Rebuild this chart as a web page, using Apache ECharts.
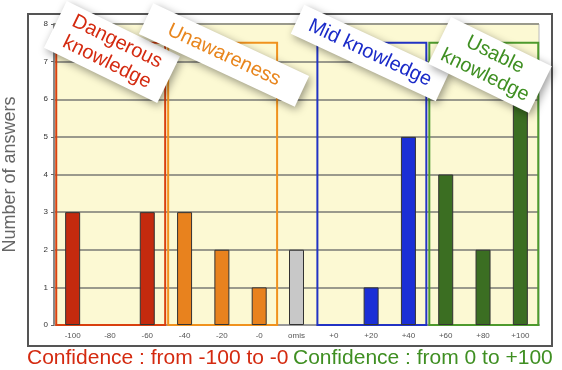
<!DOCTYPE html>
<html>
<head>
<meta charset="utf-8">
<script src="https://cdn.jsdelivr.net/npm/echarts@6/dist/echarts.min.js"></script>
<style>
  html, body { margin: 0; padding: 0; background: #fff; }
  #chart { width: 562px; height: 370px; }
</style>
</head>
<body>
<div id="chart"></div>
<script>
// data
const categories = ['-100', '-80', '-60', '-40', '-20', '-0', 'omis', '+0', '+20', '+40', '+60', '+80', '+100']
const answers = [3, 0, 3, 3, 2, 1, 2, 0, 1, 5, 4, 2, 6]
const yTicks = [0, 1, 2, 3, 4, 5, 6, 7, 8]

// the four groups of confidence
const groupLabels = ['Dangerous\nknowledge', 'Unawareness', 'Mid knowledge', 'Usable\nknowledge']
const groupFrom = ['-100', '-40', '+0', '+60']
const groupTo = ['-60', '-0', '+40', '+100']
const groupTop = 7.5

const barColors = ['#c42a0e', '#e8821e', '#1b2fd6', '#3b6e22']
const boxColors = ['#d9400f', '#f0921e', '#2233c4', '#4e9a2e']
const textColors = ['#d42a10', '#e8861e', '#1a2ac8', '#3f8f22']

function groupOf(i) {
  for (let g = 0; g < groupFrom.length; g++) {
    if (i >= categories.indexOf(groupFrom[g]) && i <= categories.indexOf(groupTo[g])) return g
  }
  return -1
}

const chart = echarts.init(document.getElementById('chart'))

// label boxes: centre, size, tilt
const boxes = [
  { cx: 112, cy: 52, w: 126, h: 52, a: 26 },
  { cx: 224, cy: 55, w: 172, h: 34, a: 25 },
  { cx: 370, cy: 53, w: 160, h: 32, a: 25 },
  { cx: 490, cy: 65, w: 112, h: 52, a: 26 }
]

const graphics = [
  {
    type: 'rect', z: -1, silent: true,
    shape: { x: 28, y: 14, width: 524, height: 332 },
    style: { fill: 'none', stroke: '#555', lineWidth: 2 }
  },
  {
    type: 'text', left: 27, top: 348, z: 10,
    style: { text: 'Confidence : from -100 to -0', fill: '#d42a10', font: '21px "Liberation Sans", Arial, sans-serif' }
  },
  {
    type: 'text', left: 293, top: 348, z: 10,
    style: { text: 'Confidence : from 0 to +100', fill: '#3f8f22', font: '21px "Liberation Sans", Arial, sans-serif' }
  }
]

boxes.forEach((b, g) => {
  graphics.push({
    type: 'group', x: b.cx, y: b.cy, rotation: -b.a * Math.PI / 180, z: 100,
    children: [
      {
        type: 'rect', z: 100,
        shape: { x: -b.w / 2, y: -b.h / 2, width: b.w, height: b.h },
        style: { fill: '#fff', shadowBlur: 8, shadowOffsetX: 2, shadowOffsetY: 3, shadowColor: 'rgba(0,0,0,0.4)' }
      },
      {
        type: 'text', z: 101, x: 0, y: 0,
        style: {
          text: groupLabels[g], fill: textColors[g],
          font: '20px "Liberation Sans", Arial, sans-serif',
          align: 'center', verticalAlign: 'middle', lineHeight: 23
        }
      }
    ]
  })
})

// group outlines on a hidden value axis that spans the category bands
const areas = groupFrom.map((f, g) => {
  const a = categories.indexOf(f)
  const b = categories.indexOf(groupTo[g])
  return [
    { coord: [a - 0.44, -0.08], itemStyle: { borderColor: boxColors[g] } },
    { coord: [b + 0.48, groupTop] }
  ]
})

chart.setOption({
  animation: false,
  grid: {
    left: 54, right: 23, top: 24, bottom: 45,
    outerBoundsMode: 'none', containLabel: false,
    show: true, backgroundColor: '#fcf9d3', borderColor: '#bbb', borderWidth: 1
  },
  graphic: graphics,
  xAxis: [
    {
      type: 'category',
      data: categories,
      axisLine: { lineStyle: { color: '#999', width: 2 } },
      axisTick: { length: 2, lineStyle: { color: '#777' } },
      axisLabel: { color: '#555', fontSize: 8, margin: 7 }
    },
    { type: 'value', min: -0.5, max: 12.5, show: false }
  ],
  yAxis: {
    type: 'value', min: 0, max: 8, interval: 1,
    name: 'Number of answers', nameLocation: 'middle', nameGap: 35,
    nameTextStyle: { color: '#666', fontSize: 18, fontFamily: 'Liberation Sans' },
    axisLine: { show: true, onZero: false, lineStyle: { color: '#888', width: 2 } },
    axisTick: { show: true, length: 3, lineStyle: { color: '#666' } },
    axisLabel: {
      color: '#333', fontSize: 8, margin: 6,
      formatter: v => (yTicks.indexOf(v) >= 0 ? String(v) : '')
    },
    splitLine: { lineStyle: { color: '#9a9a8c', width: 2 } }
  },
  series: [
    {
      type: 'bar',
      // empty categories get no bar at all
      data: answers.map(v => (v === 0 ? null : v)),
      barWidth: 15,
      itemStyle: {
        borderColor: '#333', borderWidth: 1,
        color: p => { const g = groupOf(p.dataIndex); return g < 0 ? '#c8c8c8' : barColors[g] }
      }
    },
    {
      type: 'line', xAxisIndex: 1, data: [], clip: false, silent: true,
      markArea: {
        silent: true,
        itemStyle: { color: 'rgba(0,0,0,0)', borderWidth: 2 },
        data: areas
      }
    }
  ]
})
</script>
</body>
</html>
